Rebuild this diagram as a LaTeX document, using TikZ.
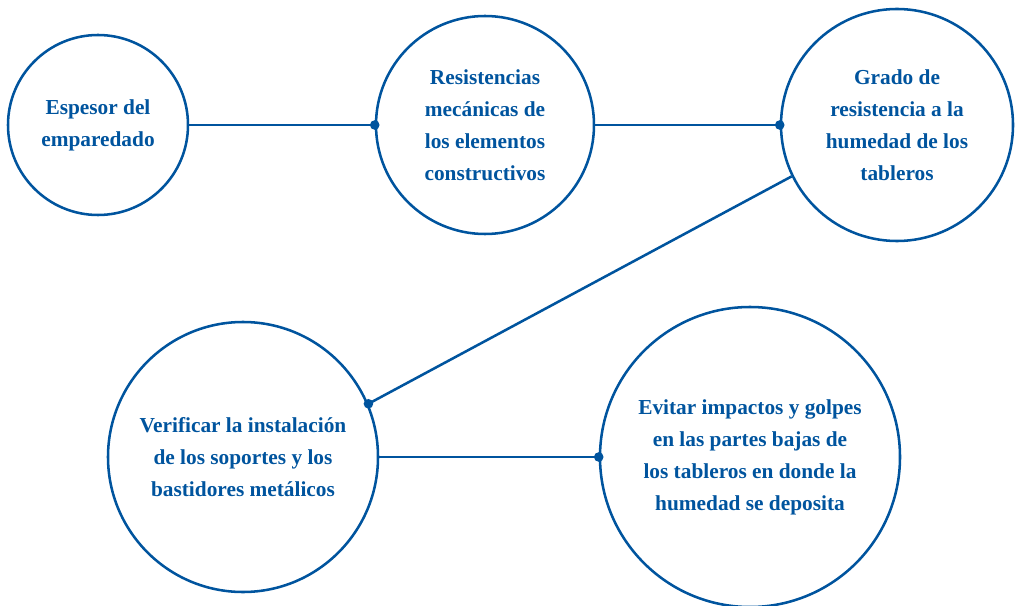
\documentclass[tikz,border=0pt]{standalone}
\usepackage{fontspec}
\setmainfont{Liberation Serif}
\definecolor{bl}{RGB}{0,84,158}
\begin{document}
\begin{tikzpicture}[x=0.75pt,y=-0.75pt,
  circ/.style={circle,draw=bl,line width=1.9pt,inner sep=0pt,align=center,
    text=bl,font=\bfseries\fontsize{16}{24}\selectfont},
  conn/.style={draw=bl,line width=1.9pt},
  dotmark/.style={fill=bl}]
\useasboundingbox (0,0) rectangle (1017,606);
\node[circ,minimum size=135pt] (c1) at (98,125) {Espesor del\\emparedado};
\node[circ,minimum size=163.5pt] (c2) at (485,125) {Resistencias\\mecánicas de\\los elementos\\constructivos};
\node[circ,minimum size=174pt] (c3) at (897,125) {Grado de\\resistencia a la\\humedad de los\\tableros};
\node[circ,minimum size=202.5pt] (c4) at (243,457) {Verificar la instalación\\de los soportes y los\\bastidores metálicos};
\node[circ,minimum size=225pt] (c5) at (750,457) {Evitar impactos y golpes\\en las partes bajas de\\los tableros en donde la\\humedad se deposita};
\draw[conn] (c1.east) -- (c2.west);
\draw[conn] (c2.east) -- (c3.west);
\draw[conn] (c3.206.8) -- (c4.23.5);
\draw[conn] (c4.east) -- (c5.west);
\fill[dotmark] (c2.west) circle[radius=3.6pt];
\fill[dotmark] (c3.west) circle[radius=3.6pt];
\fill[dotmark] (c4.23.5) circle[radius=3.6pt];
\fill[dotmark] (c5.west) circle[radius=3.6pt];
\end{tikzpicture}
\end{document}
